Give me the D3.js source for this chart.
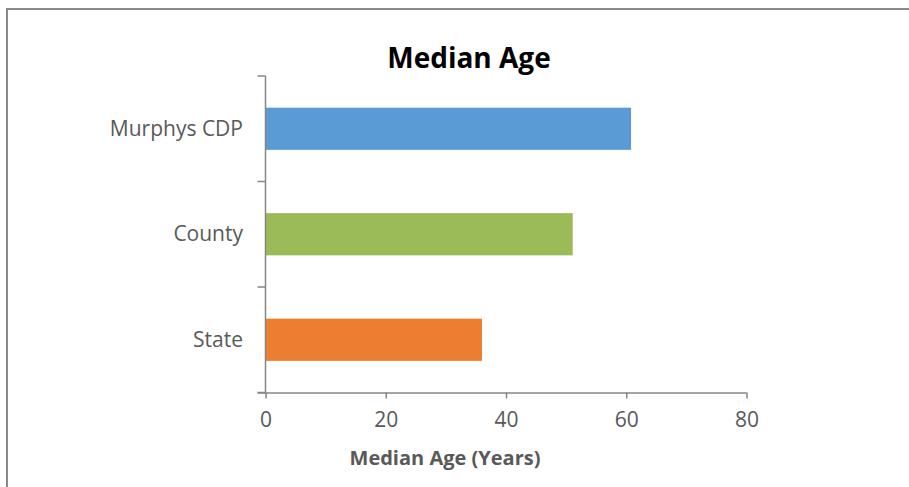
<!DOCTYPE html>
<html>
<head>
<meta charset="utf-8">
<script src="https://cdn.jsdelivr.net/npm/d3@7"></script>
<style>
  html, body { margin: 0; padding: 0; background: #fff; }
  svg { display: block; }
  text { font-family: "Open Sans", "Noto Sans", sans-serif; }
</style>
</head>
<body>
<svg id="chart" width="909" height="487"></svg>
<script>
// Median age by geography
const categories = ["Murphys CDP", "County", "State"];
const medianAge = [60.8, 51.1, 36.0];
const barColors = ["#5B9BD5", "#9BBB59", "#ED7D31"];
const xTicks = [0, 20, 40, 60, 80];
const chartTitle = "Median Age";
const xAxisTitle = "Median Age (Years)";

const svg = d3.select("#chart");
const axisColor = "#868686";
const textColor = "#595959";

// outer chart frame
svg.append("rect")
  .attr("x", 7).attr("y", 9)
  .attr("width", 920).attr("height", 500)
  .attr("fill", "none")
  .attr("stroke", "#898989")
  .attr("stroke-width", 2);

const plot = { left: 265.5, right: 746.5, top: 76, bottom: 392.5 };

const x = d3.scaleLinear().domain([0, 80]).range([plot.left, plot.right]);
const y = d3.scaleBand().domain(categories)
  .range([plot.top, plot.bottom])
  .paddingInner(0.6).paddingOuter(0.3);

// bars
svg.append("g").selectAll("rect")
  .data(categories.map((c, i) => ({ c, v: medianAge[i], color: barColors[i] })))
  .join("rect")
  .attr("x", x(0))
  .attr("y", d => y(d.c))
  .attr("width", d => x(d.v) - x(0))
  .attr("height", y.bandwidth())
  .attr("fill", d => d.color);

// x axis
const xAxis = svg.append("g")
  .attr("transform", `translate(0,${plot.bottom})`)
  .call(d3.axisBottom(x).tickValues(xTicks).tickSize(6).tickSizeOuter(0).tickPadding(14));
xAxis.select(".domain").attr("stroke", axisColor).attr("stroke-width", 1.5)
  .attr("d", `M${plot.left - 8},0.5H${plot.right}`);
xAxis.selectAll(".tick line").attr("stroke", axisColor).attr("stroke-width", 1.5);
xAxis.selectAll(".tick text")
  .attr("fill", textColor)
  .style("font-size", "21px")
  .style("font-family", '"Open Sans", sans-serif');

// y axis: ticks sit on category boundaries
const yAxisG = svg.append("g");
yAxisG.append("line")
  .attr("x1", plot.left).attr("x2", plot.left)
  .attr("y1", plot.top).attr("y2", plot.bottom)
  .attr("stroke", axisColor).attr("stroke-width", 1.5);
const step = y.step();
const boundaries = d3.range(categories.length + 1).map(i => plot.top + i * step);
yAxisG.selectAll("line.tick")
  .data(boundaries)
  .join("line")
  .attr("class", "tick")
  .attr("x1", plot.left - 8).attr("x2", plot.left)
  .attr("y1", d => d).attr("y2", d => d)
  .attr("stroke", axisColor).attr("stroke-width", 1.5);
yAxisG.selectAll("text")
  .data(categories)
  .join("text")
  .attr("x", 243)
  .attr("y", d => y(d) + y.bandwidth() / 2)
  .attr("dy", "0.33em")
  .attr("text-anchor", "end")
  .attr("fill", textColor)
  .style("font-size", "21px")
  .text(d => d);

// titles
svg.append("text")
  .attr("x", 469).attr("y", 68)
  .attr("text-anchor", "middle")
  .attr("fill", "#000")
  .style("font-size", "28px")
  .style("font-weight", "bold")
  .text(chartTitle);

svg.append("text")
  .attr("x", 445).attr("y", 465)
  .attr("text-anchor", "middle")
  .attr("fill", textColor)
  .style("font-size", "20px")
  .style("font-weight", "bold")
  .text(xAxisTitle);
</script>
</body>
</html>
